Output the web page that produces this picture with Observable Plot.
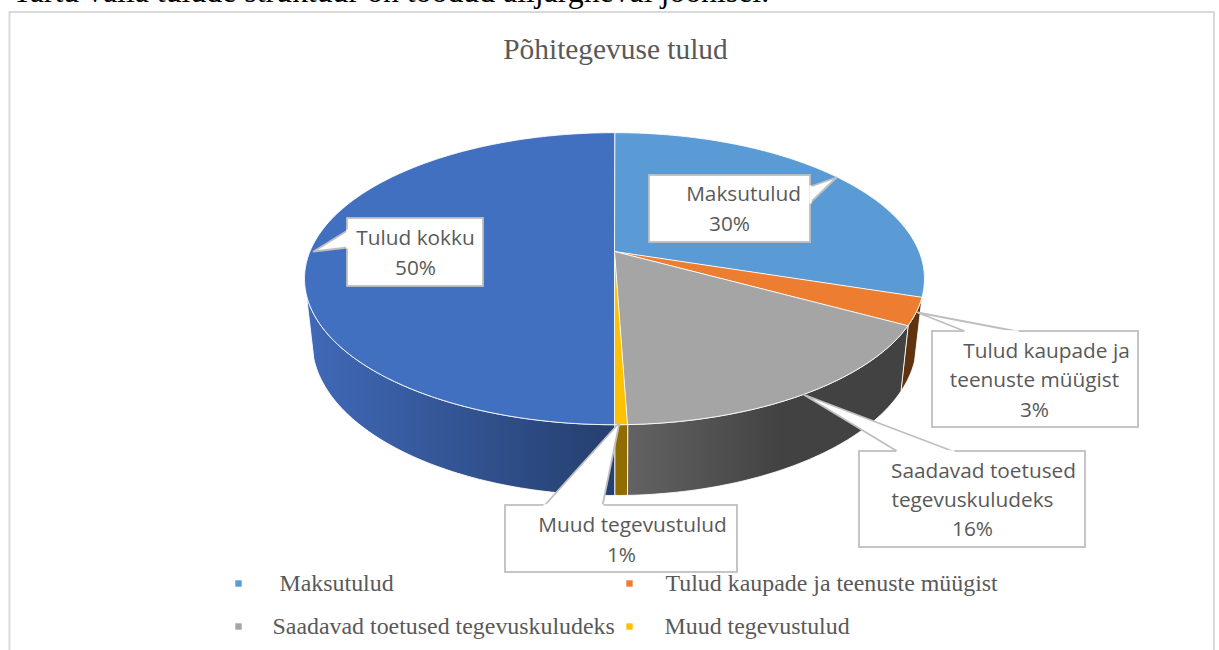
<!DOCTYPE html>
<html><head><meta charset="utf-8">
<style>html,body{margin:0;padding:0;background:#fff;overflow:hidden}svg{display:block}</style>
<script src="https://cdn.jsdelivr.net/npm/d3@7"></script>
<script src="https://cdn.jsdelivr.net/npm/@observablehq/plot@0.6"></script>
</head><body><div id="chart"></div>
<script>
const categories = ["Maksutulud","Tulud kaupade ja teenuste müügist","Saadavad toetused tegevuskuludeks","Muud tegevustulud","Tulud kokku"];
const shares = [30,3,16.45,0.55,50];
const topColors = ["#5b9bd5","#ed7d31","#a5a5a5","#ffc000","#4270c0"];
const sideColors = ["#5b9bd5","#5f3210","url(#sideGrey)","#8f6d00","url(#sideBlue)"];
const legendEntries = [0,1,2,3];
const pct = i => Math.round(shares[i]) + "%";

// layout of the drawing (pixels), separate from the data
const W = 1219, H = 650;
const apex = {x:614, y:251};
const topDisc = {a:304.4, b:140.8, k:0.189, y0:250.6};
const lowDisc = {a:297, b:148, k:0.189, y0:312.5};
const sideLimit = 253; // degrees clockwise from top where the visible wall ends
const serif = "Liberation Serif", sans = "Open Sans", textGrey = "#595959", border = "#bfbfbf";

function rim(d, deg){
  const t = deg*Math.PI/180, u = Math.sin(t), v = Math.cos(t), p = 1+d.k*v;
  return {x: apex.x + d.a*u/p, y: d.y0 - d.b*v/p};
}
let acc = 0;
const slices = shares.map((s,i)=>{const from=acc*3.6; acc+=s; return {i, from, to:acc*3.6};});
const arc = (d,a,b)=>{const n=Math.max(2,Math.ceil(Math.abs(b-a)));return d3.range(n+1).map(j=>rim(d,a+(b-a)*j/n));};

const poly = (pts,fill,stroke="#ffffff",sw=1)=>Plot.line(pts,{x:"x",y:"y",fill,stroke,strokeWidth:sw,strokeOpacity:0.85,curve:"linear-closed"});

const sideMarks = slices.filter(s=>s.i>0).map(s=>{
  const a=s.from, b=Math.min(s.to,sideLimit);
  return poly([...arc(topDisc,a,b),...arc(lowDisc,b,a)],sideColors[s.i]);
});
const topMarks = slices.map(s=>poly([apex,...arc(topDisc,s.from,s.to)],topColors[s.i]));

const callouts = [
 {box:[347,218,483,286],wedge:[[347,230],[313,251],[347,247]],lines:[[categories[4],415,238],[pct(4),415,268]]},
 {box:[649,175,810,242],wedge:[[810,186],[836,177],[810,202]],lines:[[categories[0],743,194],[pct(0),729,224]]},
 {box:[932,331,1138,427],wedge:[[965,331],[917,312],[1017,331]],lines:[["Tulud kaupade ja",1046,351],["teenuste müügist",1034,380],[pct(1),1034,410]]},
 {box:[859,451,1085,547],wedge:[[897,451],[803,394],[953,451]],lines:[["Saadavad toetused",983,471],["tegevuskuludeks",972,500],[pct(2),972,529]]},
 {box:[505,505,737,572],wedge:[[544,505],[619,422],[602,505]],lines:[[categories[3],632,525],[pct(3),621,555]]}
];
const calloutMarks = callouts.flatMap(c=>{
  const [x1,y1,x2,y2]=c.box;
  return [
    Plot.rect([c.box],{x1:()=>x1,y1:()=>y1,x2:()=>x2,y2:()=>y2,fill:"#fff",stroke:border,strokeWidth:1.8}),
    Plot.line(c.wedge.map(([x,y])=>({x,y})),{x:"x",y:"y",fill:"#fff",stroke:border,strokeWidth:1.8}),
    Plot.line([c.wedge[0],c.wedge[2]].map(([x,y])=>({x,y})),{x:"x",y:"y",stroke:"#fff",strokeWidth:2.4}),
    Plot.text(c.lines,{x:d=>d[1],y:d=>d[2],text:d=>d[0],fontFamily:sans,fontSize:20.8,fill:textGrey,textAnchor:"middle",lineAnchor:"middle"})
  ];
});

const legendPos = [{sx:238,sy:583,tx:279},{sx:629,sy:583,tx:665},{sx:238,sy:626,tx:272},{sx:629,sy:626,tx:664}];

const plot = Plot.plot({
  width:W,height:H,margin:0,
  x:{domain:[0,W],range:[0,W],axis:null},
  y:{domain:[0,H],range:[0,H],axis:null},
  marks:[
    Plot.text(["Tartu valla tulude struktuur on toodud alljärgneval joonisel."],{x:()=>12,y:()=>1,text:d=>d,textAnchor:"start",lineAnchor:"bottom",fontFamily:serif,fontSize:31.8,fill:"#000"}),
    Plot.rect([0],{x1:()=>9.5,y1:()=>12,x2:()=>1214,y2:()=>720,fill:"none",stroke:"#d9d9d9",strokeWidth:2}),
    Plot.text(["Põhitegevuse tulud"],{x:()=>615,y:()=>49,text:d=>d,textAnchor:"middle",lineAnchor:"middle",fontFamily:serif,fontSize:29.4,fill:textGrey}),
    ...sideMarks,
    ...topMarks,
    ...calloutMarks,
    Plot.dot(legendEntries,{x:i=>legendPos[i].sx,y:i=>legendPos[i].sy,symbol:"square",r:3.6,fill:i=>topColors[i],stroke:"none"}),
    Plot.text(legendEntries,{x:i=>legendPos[i].tx,y:i=>legendPos[i].sy,text:i=>categories[i],textAnchor:"start",lineAnchor:"middle",fontFamily:serif,fontSize:23.9,fill:textGrey})
  ]
});
const ns="http://www.w3.org/2000/svg";
const defs=document.createElementNS(ns,"defs");
defs.innerHTML=`<linearGradient id="sideBlue" x1="0" x2="1" y1="0" y2="0"><stop offset="0" stop-color="#4069b8"/><stop offset="1" stop-color="#253f6e"/></linearGradient>
<linearGradient id="sideGrey" x1="0" x2="1" y1="0" y2="0"><stop offset="0" stop-color="#636363"/><stop offset="0.55" stop-color="#424242"/><stop offset="1" stop-color="#424242"/></linearGradient>`;
plot.prepend(defs);
document.getElementById("chart").appendChild(plot);
</script></body></html>
